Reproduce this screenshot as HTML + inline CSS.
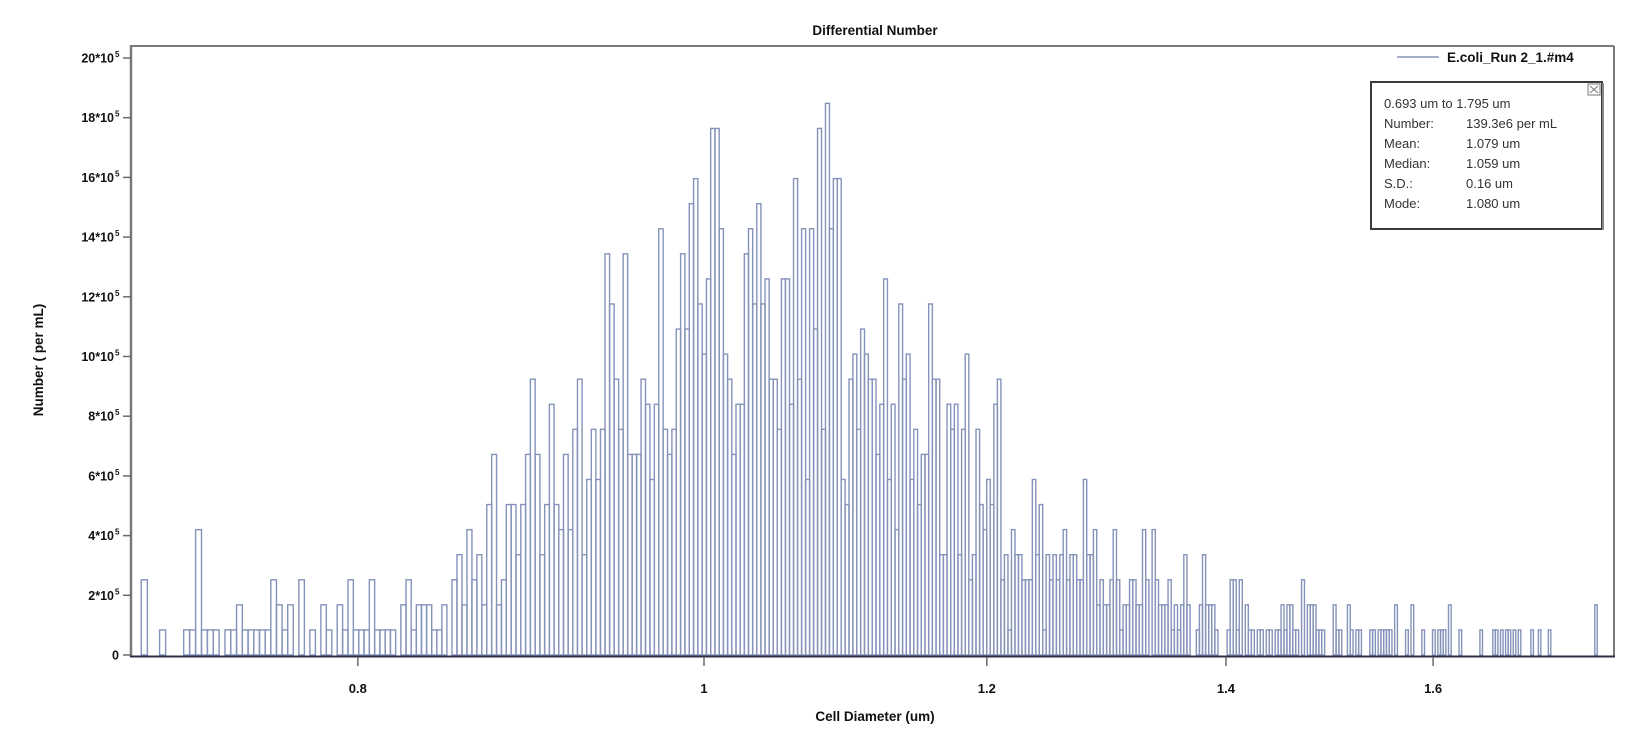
<!DOCTYPE html>
<html>
<head>
<meta charset="utf-8">
<style>
  html,body{margin:0;padding:0;background:#ffffff;}
  body{width:1652px;height:743px;overflow:hidden;}
  svg{display:block;font-family:"Liberation Sans",Arial,sans-serif;}
</style>
</head>
<body>
<svg id="chart" width="1652" height="743" viewBox="0 0 1652 743" xmlns="http://www.w3.org/2000/svg">
  <rect x="0" y="0" width="1652" height="743" fill="#ffffff"/>
  <text x="875" y="35" text-anchor="middle" font-size="13.5" font-weight="bold" fill="#111">Differential Number</text>
  <g id="bars"></g>
  <line x1="131" y1="46" x2="1614" y2="46" stroke="#7a7a7a" stroke-width="2"/>
  <line x1="1614" y1="46" x2="1614" y2="657" stroke="#7a7a7a" stroke-width="2"/>
  <line x1="131" y1="45" x2="131" y2="657" stroke="#7a7a7a" stroke-width="2.5"/>
  <line x1="130" y1="656.5" x2="1615" y2="656.5" stroke="#2b2f48" stroke-width="2"/>
  <g id="yaxis"></g>
  <g id="xaxis"></g>
  <text transform="translate(43,360) rotate(-90)" text-anchor="middle" font-size="13.5" font-weight="bold" fill="#111">Number ( per mL)</text>
  <text x="875" y="721" text-anchor="middle" font-size="13.5" font-weight="bold" fill="#111">Cell Diameter (um)</text>

  <g>
    <line x1="1397" y1="57" x2="1439" y2="57" stroke="#8593ba" stroke-width="1.5"/>
    <text x="1447" y="62" font-size="13.5" font-weight="bold" fill="#111">E.coli_Run 2_1.#m4</text>
  </g>

  <g>
    <rect x="1371" y="82" width="231" height="147" fill="#ffffff" stroke="#3a3a3a" stroke-width="2"/>
    <line x1="1603" y1="83" x2="1603" y2="230" stroke="#888" stroke-width="2"/>
    <g>
      <rect x="1588" y="84" width="12" height="11" fill="#fff" stroke="#777" stroke-width="1"/>
      <line x1="1590" y1="86" x2="1598" y2="93" stroke="#777" stroke-width="1"/>
      <line x1="1598" y1="86" x2="1590" y2="93" stroke="#777" stroke-width="1"/>
    </g>
    <g font-size="13" fill="#333">
      <text x="1384" y="108">0.693 um to 1.795 um</text>
      <text x="1384" y="128">Number:</text>
      <text x="1466" y="128">139.3e6  per mL</text>
      <text x="1384" y="148">Mean:</text>
      <text x="1466" y="148">1.079 um</text>
      <text x="1384" y="168">Median:</text>
      <text x="1466" y="168">1.059 um</text>
      <text x="1384" y="188">S.D.:</text>
      <text x="1466" y="188">0.16 um</text>
      <text x="1384" y="208">Mode:</text>
      <text x="1466" y="208">1.080 um</text>
    </g>
  </g>
</svg>
<script>
// ---- chart data ----
const binStartUm = 0.693;
const binWidthUm = 0.002755;
// number per mL in units of 10^5, one value per bin (400 bins)
const numberPerMlE5 = [
0,2.52,0,0,0.84,0,0,0,0.84,0.84,
4.2,0.84,0.84,0.84,0,0.84,0.84,1.68,0.84,0.84,
0.84,0.84,0.84,2.52,1.68,0.84,1.68,0,2.52,0,
0.84,0,1.68,0.84,0,1.68,0.84,2.52,0.84,0.84,
0.84,2.52,0.84,0.84,0.84,0.84,0,1.68,2.52,0.84,
1.68,1.68,1.68,0.84,0.84,1.68,0,2.52,3.36,1.68,
4.2,2.52,3.36,1.68,5.04,6.72,1.68,2.52,5.04,5.04,
3.36,5.04,6.72,9.24,6.72,3.36,5.04,8.4,5.04,4.2,
6.72,4.2,7.56,9.24,3.36,5.88,7.56,5.88,7.56,13.44,
11.76,9.24,7.56,13.44,6.72,6.72,6.72,9.24,8.4,5.88,
8.4,14.28,7.56,6.72,7.56,10.92,13.44,10.92,15.12,15.96,
11.76,10.08,12.6,17.64,17.64,14.28,10.08,9.24,6.72,8.4,
8.4,13.44,14.28,11.76,15.12,11.76,12.6,9.24,9.24,7.56,
12.6,12.6,8.4,15.96,9.24,14.28,5.88,14.28,10.92,17.64,
7.56,18.48,14.28,15.96,15.96,5.88,5.04,9.24,10.08,7.56,
10.92,10.08,9.24,9.24,6.72,8.4,12.6,5.88,8.4,4.2,
11.76,9.24,10.08,5.88,7.56,5.04,6.72,6.72,11.76,9.24,
9.24,3.36,3.36,8.4,7.56,8.4,3.36,7.56,10.08,2.52,
3.36,7.56,5.04,4.2,5.88,5.04,8.4,9.24,2.52,3.36,
0.84,4.2,3.36,3.36,2.52,2.52,2.52,5.88,3.36,5.04,
0.84,3.36,2.52,3.36,2.52,3.36,4.2,2.52,3.36,3.36,
2.52,2.52,5.88,3.36,3.36,4.2,1.68,2.52,1.68,1.68,
2.52,4.2,2.52,0.84,1.68,1.68,2.52,2.52,1.68,1.68,
4.2,2.52,0,4.2,2.52,1.68,1.68,1.68,2.52,0.84,
1.68,0.84,1.68,3.36,1.68,0,0,0.84,1.68,3.36,
1.68,1.68,1.68,0.84,0,0,0,0.84,2.52,2.52,
0.84,2.52,0,1.68,0.84,0.84,0,0.84,0.84,0,
0.84,0.84,0,0.84,0.84,1.68,0.84,1.68,1.68,0.84,
0.84,0,2.52,0,1.68,1.68,1.68,0.84,0.84,0.84,
0,0,0,1.68,0.84,0.84,0,0,1.68,0.84,
0,0.84,0.84,0,0,0,0.84,0.84,0,0.84,
0.84,0.84,0.84,0.84,0,1.68,0,0,0,0.84,
0,1.68,0,0,0,0.84,0,0,0,0.84,
0,0.84,0.84,0.84,0,1.68,0,0,0,0.84,
0,0,0,0,0,0,0,0.84,0,0,
0,0,0.84,0.84,0,0.84,0,0.84,0.84,0,
0.84,0,0.84,0,0,0,0,0.84,0,0,
0.84,0,0,0,0.84,0,0,0,0,0,
0,0,0,0,0,0,0,0,0,0,
0,0,0,1.68,0,0,0,0,0,0
];
const yTickValues = [0,2,4,6,8,10,12,14,16,18,20];
const yTickLabels = ["0","2*10","4*10","6*10","8*10","10*10","12*10","14*10","16*10","18*10","20*10"];
const xTickValues = [0.8,1,1.2,1.4,1.6];
const xTickLabels = ["0.8","1","1.2","1.4","1.6"];

// ---- axis functions ----
const NS = "http://www.w3.org/2000/svg";
function xOf(d){ return 704 + 3572 * Math.log10(d); }
function yOf(v){ return 655 - v * 29.85; }

const barsG = document.getElementById('bars');
numberPerMlE5.forEach(function(v, i){
  if (v <= 0) return;
  const x0 = xOf(binStartUm + i * binWidthUm);
  const x1 = xOf(binStartUm + (i + 1) * binWidthUm);
  const y = yOf(v);
  const r = document.createElementNS(NS, 'rect');
  
  
  r.setAttribute('x', x0.toFixed(2));
  r.setAttribute('y', y.toFixed(2));
  r.setAttribute('width', (x1 - x0).toFixed(2));
  r.setAttribute('height', (655 - y).toFixed(2));
  r.setAttribute('fill', 'none');
  r.setAttribute('stroke', '#8593ba');
  r.setAttribute('stroke-width', '1.4');
  barsG.appendChild(r);
});

const yG = document.getElementById('yaxis');
yTickValues.forEach(function(v, i){
  const y = yOf(v);
  const t = document.createElementNS(NS, 'line');
  
  
  t.setAttribute('x1', 123); t.setAttribute('x2', 131);
  t.setAttribute('y1', y); t.setAttribute('y2', y);
  t.setAttribute('stroke', '#6a6a6a'); t.setAttribute('stroke-width', '1.5');
  yG.appendChild(t);
  const lab = document.createElementNS(NS, 'text');
  
  
  lab.setAttribute('x', v === 0 ? 119 : 114);
  lab.setAttribute('y', y + 4.5);
  lab.setAttribute('text-anchor', 'end');
  lab.setAttribute('font-size', '12.5');
  lab.setAttribute('font-weight', 'bold');
  lab.setAttribute('fill', '#111');
  lab.textContent = yTickLabels[i];
  yG.appendChild(lab);
  if (v !== 0) {
    const sup = document.createElementNS(NS, 'text');
    
    
    sup.setAttribute('x', 115);
    sup.setAttribute('y', y - 1);
    sup.setAttribute('font-size', '8');
    sup.setAttribute('font-weight', 'bold');
    sup.setAttribute('fill', '#111');
    sup.textContent = '5';
    yG.appendChild(sup);
  }
});

const xG = document.getElementById('xaxis');
xTickValues.forEach(function(d, i){
  const x = xOf(d);
  const t = document.createElementNS(NS, 'line');
  
  
  t.setAttribute('x1', x); t.setAttribute('x2', x);
  t.setAttribute('y1', 657); t.setAttribute('y2', 666);
  t.setAttribute('stroke', '#6a6a6a'); t.setAttribute('stroke-width', '1.5');
  xG.appendChild(t);
  const lab = document.createElementNS(NS, 'text');
  
  
  lab.setAttribute('x', x);
  lab.setAttribute('y', 693);
  lab.setAttribute('text-anchor', 'middle');
  lab.setAttribute('font-size', '13');
  lab.setAttribute('font-weight', 'bold');
  lab.setAttribute('fill', '#111');
  lab.textContent = xTickLabels[i];
  xG.appendChild(lab);
});
</script>
</body>
</html>
